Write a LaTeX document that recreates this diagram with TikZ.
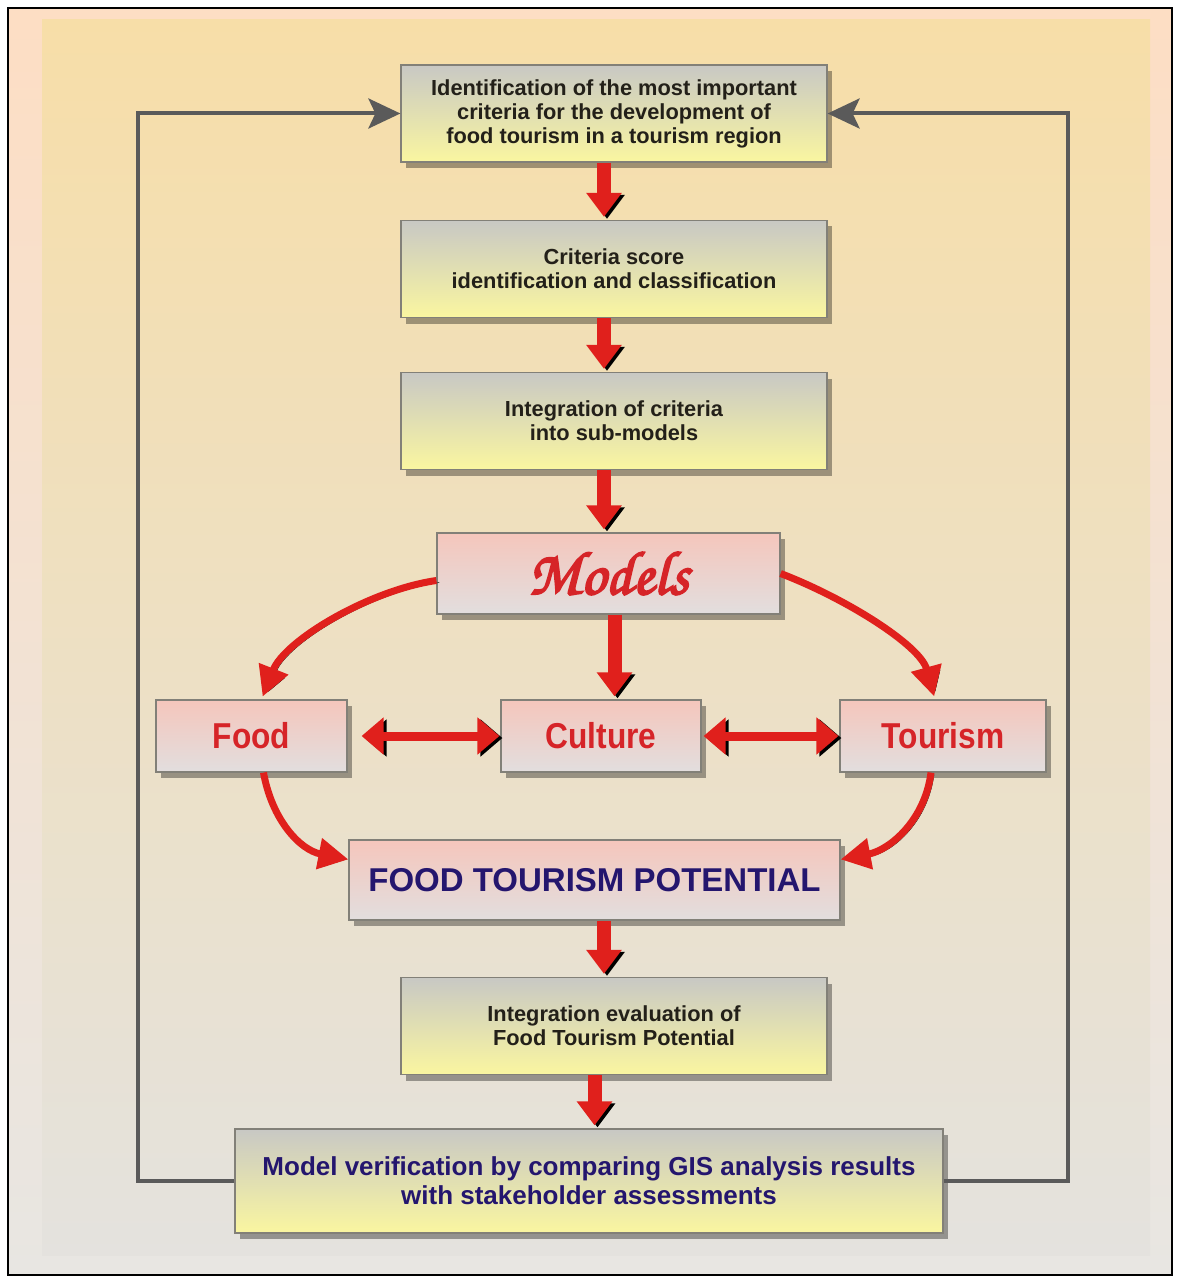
\documentclass[tikz,border=0pt]{standalone}
\usepackage{fontspec}
\setmainfont{Liberation Sans}
\newfontfamily\subsf{Liberation Sans}[FakeStretch=0.88]
\newfontfamily\modelsfont{TeX Gyre Chorus}[FakeBold=3]
\usetikzlibrary{arrows.meta}
\usetikzlibrary{shadows}

\definecolor{boxtop}{RGB}{200,200,196}
\definecolor{boxbot}{RGB}{250,246,160}
\definecolor{pinktop}{RGB}{245,198,188}
\definecolor{pinkbot}{RGB}{226,222,222}
\definecolor{boxline}{RGB}{130,128,120}
\definecolor{boxtext}{RGB}{35,32,25}
\definecolor{potblue}{RGB}{36,22,110}
\definecolor{subred}{RGB}{214,36,40}
\definecolor{arrowred}{RGB}{224,32,28}
\definecolor{loopgray}{RGB}{90,90,90}
\definecolor{frametop}{RGB}{253,222,196}
\definecolor{framebot}{RGB}{232,230,226}
\definecolor{innertop}{RGB}{247,222,168}
\definecolor{innerbot}{RGB}{228,226,222}

\begin{document}
\begin{tikzpicture}[x=1pt,y=-1pt,
  stepbox/.style={draw=boxline, line width=1.2pt, top color=boxtop, bottom color=boxbot,
    minimum width=426pt, minimum height=97pt, align=center, text=boxtext, inner sep=0pt,
    font=\fontsize{21.8}{24}\selectfont\bfseries,
    drop shadow={shadow xshift=5pt, shadow yshift=-6pt, opacity=.35, fill=black}},
  modelbox/.style={stepbox, top color=pinktop, bottom color=pinkbot},
  subbox/.style={modelbox, minimum height=72pt, text=subred,
    font=\subsf\fontsize{36}{36}\selectfont\bfseries},
  fat/.style={line width=#1, draw=arrowred,
    preaction={draw=black, transform canvas={shift={(3pt,-2pt)}}}},
  loopline/.style={draw=loopgray, line width=4pt,
    -{Stealth[length=32pt,width=30pt,inset=7pt]}}]
\useasboundingbox (0,0) rectangle (1180,1281);
\draw[line width=1.5pt, top color=frametop, bottom color=framebot] (8,8) rectangle (1172,1275);
\fill[top color=innertop, bottom color=innerbot] (42,20) rectangle (1150,1255);

\coordinate (axis) at (604,0);
\coordinate (lft) at (138,0);
\coordinate (rgt) at (1068,0);

% boxes
\node[stepbox] (ident) at (614,113.5) {Identification of the most important\\criteria for the development of\\food tourism in a tourism region};
\node[stepbox] (score) at (614,269) {Criteria score\\identification and classification};
\node[stepbox] (integ) at (614,421) {Integration of criteria\\into sub-models};
\node[modelbox, minimum width=343pt, minimum height=81pt, text=subred] (models) at (608.5,573.5) {\modelsfont\fontsize{62}{62}\selectfont Models};
\node[subbox, minimum width=191pt] (food) at (251.5,736) {Food};
\node[subbox, minimum width=200pt] (culture) at (601,736) {Culture};
\node[subbox, minimum width=206pt] (tourism) at (943,736) {Tourism};
\node[modelbox, minimum width=491pt, minimum height=80pt, text=potblue,
  font=\fontsize{33}{33}\selectfont\bfseries] (potential) at (594.5,880) {FOOD TOURISM POTENTIAL};
\node[stepbox] (evalu) at (614,1026) {Integration evaluation of\\Food Tourism Potential};
\node[stepbox, minimum width=708pt, minimum height=104pt, text=potblue,
  font=\fontsize{26}{29}\selectfont\bfseries] (verif) at (589,1181) {Model verification by comparing GIS analysis results\\with stakeholder assessments};

% main flow
\draw[fat=14pt, -{Triangle[width=34pt,length=24pt]}, shorten >=3pt] (ident.south -| axis) -- (score.north -| axis);
\draw[fat=14pt, -{Triangle[width=34pt,length=24pt]}, shorten >=3pt] (score.south -| axis) -- (integ.north -| axis);
\draw[fat=14pt, -{Triangle[width=34pt,length=24pt]}, shorten >=3pt] (integ.south -| axis) -- (models.north -| axis);
\draw[fat=14pt, -{Triangle[width=34pt,length=24pt]}, shorten >=3pt] ([xshift=6pt]models.south) -- ([xshift=6pt]models.south |- culture.north);
\draw[fat=14pt, -{Triangle[width=34pt,length=24pt]}, shorten >=3pt] (potential.south -| axis) -- (evalu.north -| axis);
\draw[fat=14pt, -{Triangle[width=34pt,length=24pt]}, shorten >=3pt] (evalu.south -| potential) -- (verif.north -| potential);

% sub-models
\draw[fat=7pt, -{Triangle[width=30pt,length=30pt]}, shorten >=3pt] ([yshift=-7pt]models.west) .. controls (370,590) and (285,640) .. ([xshift=10pt]food.north);
\draw[fat=7pt, -{Triangle[width=30pt,length=30pt]}, shorten >=3pt] (models.east) .. controls (845,598) and (920,645) .. ([xshift=-8pt]tourism.north);
\draw[fat=7pt, -{Triangle[width=30pt,length=30pt]}] ([xshift=12pt]food.south) .. controls (272,820) and (300,850) .. ([yshift=-20pt]potential.north west);
\draw[fat=7pt, -{Triangle[width=30pt,length=30pt]}] ([xshift=-12pt]tourism.south) .. controls (925,820) and (890,850) .. ([yshift=-20pt]potential.north east);
\draw[fat=9pt, {Triangle[width=36pt,length=22pt]}-{Triangle[width=36pt,length=22pt]}, shorten <=14pt, shorten >=1pt] (food.east) -- (culture.west);
\draw[fat=9pt, {Triangle[width=36pt,length=22pt]}-{Triangle[width=36pt,length=22pt]}, shorten <=2pt, shorten >=1pt] (culture.east) -- (tourism.west);

% feedback
\draw[loopline] (verif.west) -| (lft |- ident.west) -- (ident.west);
\draw[loopline] (verif.east) -| (rgt |- ident.east) -- (ident.east);
\end{tikzpicture}
\end{document}
